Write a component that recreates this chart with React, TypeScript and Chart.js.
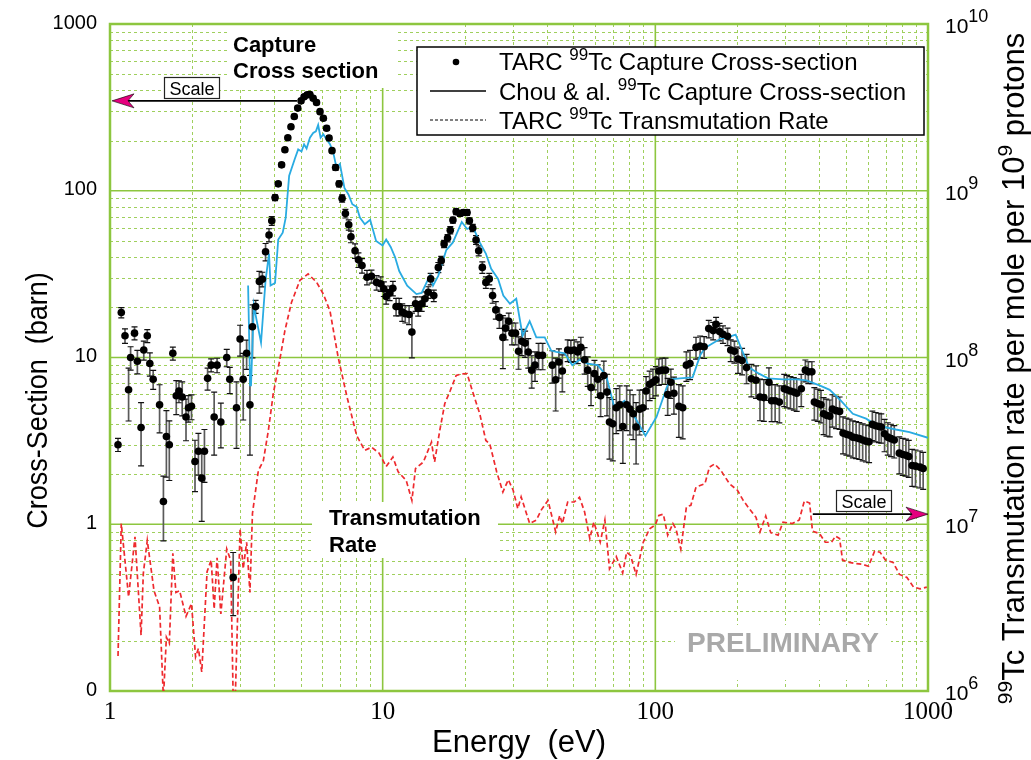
import { useEffect, useRef } from 'react';
import { Chart, registerables } from 'chart.js';

Chart.register(...registerables);

const W = 1031;
const H = 760;
const SANS = '"Liberation Sans", Arial, Helvetica, sans-serif';
const SERIF = '"Liberation Serif", "Times New Roman", serif';

// TARC 99Tc capture cross-section: energy (eV), cross-section (barn), relative error (%)
const tarcE = [
  1.07, 1.10, 1.135, 1.17, 1.19, 1.23, 1.26, 1.30, 1.33, 1.37, 1.40, 1.44, 1.52, 1.57, 1.61, 1.65,
  1.70, 1.75, 1.79, 1.84, 1.90, 1.94, 1.99, 2.05, 2.11, 2.17, 2.22, 2.28, 2.35, 2.41, 2.47, 2.55,
  2.68, 2.75, 2.83, 2.91, 3.00, 3.08, 3.17, 3.26, 3.33, 3.42, 3.53, 3.62, 3.72, 3.83, 3.92, 4.03,
  4.14, 4.26, 4.38, 4.49, 4.61, 4.74, 4.88, 5.02, 5.15, 5.29, 5.41, 5.56, 5.72, 5.89, 6.06, 6.23,
  6.36, 6.52, 6.72, 6.92, 7.10, 7.30, 7.51, 7.65, 7.92, 8.15, 8.40, 8.76, 9.10, 9.50, 9.83, 10.1,
  10.3, 10.6, 10.9, 11.2, 11.5, 11.8, 12.1, 12.5, 12.8, 13.2, 13.5, 13.9, 14.3, 14.7, 15.0, 15.4,
  16.0, 16.4, 16.8, 17.3, 17.7, 18.1, 18.6, 19.2, 19.8, 20.4, 20.8, 21.4, 22.0, 22.5, 23.2, 23.9,
  24.6, 25.3, 26.0, 26.8, 27.6, 28.2, 29.0, 29.8, 30.7, 31.5, 32.4, 33.3, 34.2, 35.2, 36.2, 37.3,
  38.6, 41.9, 43.1, 44.3, 45.6, 47.7, 49.0, 50.4, 51.9, 53.3, 55.0, 56.5, 58.1, 59.8, 61.5, 63.0,
  64.7, 66.5, 67.9, 69.8, 71.9, 74.0, 76.0, 78.5, 80.7, 83.0, 85.0, 87.5, 90.0, 92.5, 95.3, 98.0,
  100.5, 103, 106, 109, 111, 114, 117, 122, 126, 130, 134, 141, 146, 151, 157, 163,
  167, 172, 177, 184, 189, 195, 201, 208, 216, 225, 234, 242, 250, 261, 267, 275,
  285, 297, 304, 313, 322, 330, 343, 355, 364, 375, 383, 394, 405, 414, 424, 436,
  446, 460, 474, 488, 502, 516, 530, 545, 560, 576, 592, 608, 625, 643, 661, 674,
  693, 712, 732, 752, 785, 808, 830, 850, 875, 900, 935, 960,
];
const tarcXS = [
  3.0, 18.6, 13.5, 6.4, 10.0, 14.0, 9.5, 3.8, 11.1, 13.5, 9.2, 7.4, 5.2, 1.37, 3.36, 3.0,
  10.6, 5.9, 6.3, 5.8, 4.4, 5.0, 5.1, 2.38, 2.74, 1.89, 2.74, 7.5, 9.0, 4.4, 9.0, 4.1,
  10.0, 7.4, 0.48, 5.0, 12.9, 7.4, 10.6, 5.2, 15.3, 20.2, 28.6, 29.5, 43.1, 54.3, 66, 91,
  110, 143, 176, 208, 242, 279, 313, 346, 366, 376, 378, 359, 338, 298, 272, 237,
  207, 174, 138, 110, 90, 73, 62.5, 53, 43.7, 38.5, 35.6, 30.3, 30.7, 28.2, 27.7, 25.8,
  23.2, 24.4, 26.0, 20.2, 20.2, 18.7, 18.3, 18.1, 14.2, 21.0, 19.7, 21.0, 22.5, 24.6, 29.6, 23.5,
  34.7, 38.1, 48, 52, 58, 66.7, 75, 73, 74, 74, 66, 59.8, 50.7, 43.7, 34.7, 28.2,
  29.6, 23.5, 19.3, 17.4, 13.2, 15.0, 16.5, 14.0, 14.0, 10.9, 12.5, 12.2, 10.8, 8.4, 9.0, 10.3,
  10.3, 9.0, 7.35, 9.4, 8.3, 11.1, 11.0, 11.1, 10.8, 11.5, 9.7, 8.4, 6.6, 8.0, 7.4, 5.9,
  7.8, 6.2, 4.1, 4.0, 5.0, 5.2, 3.86, 5.2, 4.9, 4.6, 3.83, 4.9, 5.0, 6.3, 6.9, 7.1,
  7.35, 8.3, 8.4, 8.4, 6.0, 7.1, 6.1, 5.1, 5.0, 9.0, 9.2, 11.5, 11.7, 11.6, 14.9, 14.5,
  15.8, 14.3, 13.8, 13.4, 11.1, 10.9, 9.8, 9.6, 8.7, 7.45, 7.3, 5.8, 5.75, 7.1, 5.5, 5.5,
  5.4, 6.5, 6.4, 6.3, 6.2, 6.1, 6.5, 8.4, 8.2, 8.2, 5.4, 5.3, 5.2, 4.6, 4.5, 4.45,
  4.9, 4.8, 4.75, 3.52, 3.46, 3.42, 3.33, 3.3, 3.26, 3.2, 3.15, 3.12, 3.97, 3.9, 3.86, 3.83,
  3.49, 3.33, 3.26, 3.2, 2.67, 2.62, 2.59, 2.55, 2.25, 2.23, 2.2, 2.16,
];
const tarcErrPct = [
  9, 7, 10, 35, 16, 9, 16, 41, 13, 9, 16, 13, 32, 42, 43, 39,
  9, 23, 15, 23, 28, 18, 17, 34, 28, 45, 35, 15, 9, 41, 10, 30,
  12, 18, 41, 43, 21, 43, 20, 50, 35, 9, 15, 10, 12, 9, 6, 4,
  3, 3, 3, 3, 3, 3, 3, 3, 3, 3, 3, 3, 3, 3, 3, 3,
  3, 3, 4, 4, 5, 6, 7, 8, 10, 10, 10, 10, 9, 10, 10, 10,
  10, 10, 10, 12, 12, 12, 12, 13, 30, 10, 10, 10, 10, 8, 8, 8,
  7, 6, 5, 5, 5, 4, 4, 4, 4, 4, 4, 5, 6, 7, 8, 8,
  8, 10, 12, 14, 35, 15, 12, 15, 15, 22, 18, 18, 20, 22, 20, 18,
  18, 22, 35, 20, 25, 15, 15, 15, 15, 15, 18, 20, 22, 20, 22, 25,
  22, 28, 40, 40, 30, 30, 40, 30, 30, 30, 40, 30, 28, 22, 20, 20,
  20, 18, 18, 18, 25, 20, 25, 35, 35, 20, 20, 15, 15, 15, 12, 12,
  10, 12, 12, 12, 15, 15, 18, 18, 20, 22, 22, 28, 28, 22, 25, 25,
  25, 22, 22, 22, 22, 22, 22, 15, 15, 15, 22, 22, 22, 25, 25, 25,
  22, 22, 22, 25, 25, 25, 25, 25, 25, 25, 25, 25, 20, 20, 20, 20,
  22, 22, 22, 22, 25, 25, 25, 25, 25, 25, 25, 25,
];

// Chou & al. 99Tc capture cross-section: energy (eV), cross-section (barn)
const chouE = [
  3.21, 3.265, 3.29, 3.37, 3.45, 3.58, 3.65, 3.72, 3.83, 3.88, 4.03, 4.14, 4.30, 4.41, 4.54, 4.76,
  4.90, 5.04, 5.15, 5.26, 5.41, 5.56, 5.69, 5.80, 5.92, 6.06, 6.23, 6.41, 6.58, 6.77, 6.97, 7.24,
  7.49, 7.74, 8.03, 8.25, 8.6, 9.0, 9.46, 9.99, 10.3, 10.7, 11.1, 11.5, 12.3, 13.3, 13.9, 14.9,
  15.3, 16.0, 17.1, 18.1, 19.5, 20.4, 21.4, 22.7, 23.9, 25.0, 26.5, 27.7, 29.3, 30.9, 32.6, 34.6,
  36.6, 39.3, 41.5, 43.3, 46.5, 49.6, 52.7, 56.5, 61.5, 66, 71, 74, 77, 80.7, 84, 92,
  101, 110, 114, 123, 137, 146, 152, 163, 174, 184, 197, 209, 221, 240, 259, 294,
  330, 358, 400, 436, 480, 530, 593, 635, 680, 762, 855, 1000,
];
const chouXS = [
  27, 6.8, 6.8, 20.5, 16.7, 12.3, 19.0, 29, 42, 27, 28, 51, 56, 69, 123, 155,
  177, 172, 190, 179, 208, 222, 227, 248, 208, 218, 203, 190, 171, 138, 145, 104,
  95, 83, 80, 69, 63, 67, 50, 47, 51, 46, 40, 33, 27, 24, 24.4, 31,
  27, 31, 44, 49, 65, 59, 61, 49, 42, 34, 29.6, 23.5, 21, 22.5, 13.5, 16.5,
  13.2, 13.2, 11, 10.8, 10.6, 9.0, 9.7, 9.2, 9.0, 7.8, 4.9, 5.2, 5.5, 5.0, 4.4, 3.4,
  4.4, 6.6, 7.4, 7.5, 7.6, 10.3, 11.4, 12.2, 13.0, 13.2, 13.7, 10.8, 8.7, 8.0, 7.5, 7.4,
  7.4, 7.3, 6.8, 6.4, 5.5, 4.6, 4.3, 4.0, 3.85, 3.7, 3.57, 3.3,
];

// TARC 99Tc transmutation rate: energy (eV), rate per mole per 1e9 protons
const rateE = [
  1.07, 1.10, 1.17, 1.235, 1.30, 1.325, 1.37, 1.45, 1.52, 1.57, 1.61, 1.65, 1.70, 1.745, 1.80, 1.90,
  1.99, 2.06, 2.11, 2.17, 2.27, 2.35, 2.41, 2.47, 2.55, 2.68, 2.77, 2.83, 2.88, 3.00, 3.08, 3.17,
  3.26, 3.33, 3.50, 3.65, 3.81, 3.97, 4.20, 4.38, 4.63, 4.97, 5.33, 5.72, 6.06, 6.41, 6.87, 7.40,
  8.03, 8.60, 9.10, 9.70, 10.3, 10.9, 11.4, 12.2, 12.8, 13.2, 14.1, 15.1, 15.5, 16.2, 16.9, 17.7,
  18.6, 19.5, 20.4, 21.4, 22.7, 23.9, 24.7, 26.2, 27.6, 28.9, 30.1, 31.3, 32.2, 34.6, 36.6, 38.2,
  40.4, 43.1, 44.6, 45.6, 47.7, 50.4, 52.7, 55.0, 57.5, 59.5, 62.8, 65.3, 67.9, 71.9, 75.9, 78.5,
  81.1, 85.0, 90.3, 95.3, 100, 103, 107, 111, 116, 119, 124, 130, 135, 141, 152, 158,
  165, 174, 187, 200, 210, 221, 234, 242, 254, 265, 282, 294, 318, 337, 352, 368,
  377, 400, 420, 443, 458, 474, 486, 515, 545, 575, 605, 637, 667, 698, 745, 786,
  837, 885, 935, 990,
];
const rateVal = [
  1.62e6, 1.01e7, 3.67e6, 8.4e6, 2.16e6, 5.07e6, 8.0e6, 4.0e6, 3.2e6, 0.9e6, 2.1e6, 1.93e6, 6.7e6, 3.9e6, 4.0e6, 2.8e6,
  3.35e6, 1.6e6, 1.8e6, 1.3e6, 5.2e6, 6.1e6, 3.1e6, 6.3e6, 2.9e6, 7.1e6, 6.1e6, 0.9e6, 0.9e6, 9.4e6, 5.4e6, 7.8e6,
  3.9e6, 1.16e7, 2.1e7, 2.4e7, 3.66e7, 6.07e7, 9.8e7, 1.45e8, 2.14e8, 2.9e8, 3.17e8, 2.83e8, 2.4e8, 1.9e8, 1.0e8, 5.8e7,
  3.4e7, 2.77e7, 2.9e7, 2.67e7, 2.22e7, 2.53e7, 2.06e7, 1.83e7, 1.39e7, 2.16e7, 2.36e7, 3.11e7, 2.36e7, 3.66e7, 5.3e7, 6.34e7,
  7.8e7, 7.98e7, 8.0e7, 6.2e7, 4.6e7, 3.18e7, 3.04e7, 2.06e7, 1.56e7, 1.85e7, 1.6e7, 1.24e7, 1.46e7, 1.01e7, 1.06e7, 1.22e7,
  1.39e7, 9.0e6, 1.13e7, 1.01e7, 1.36e7, 1.36e7, 1.45e7, 1.19e7, 8.2e6, 1.03e7, 7.8e6, 1.06e7, 5.4e6, 6.4e6, 5.1e6, 6.8e6,
  6.5e6, 5.0e6, 7.8e6, 9.4e6, 9.9e6, 1.13e7, 1.15e7, 8.6e6, 1.01e7, 9.4e6, 7.1e6, 1.27e7, 1.3e7, 1.67e7, 1.75e7, 2.2e7,
  2.3e7, 2.1e7, 1.75e7, 1.6e7, 1.39e7, 1.24e7, 1.1e7, 9.0e6, 1.12e7, 8.9e6, 8.6e6, 1.03e7, 1.01e7, 1.06e7, 1.38e7, 1.34e7,
  9.1e6, 8.8e6, 7.8e6, 7.8e6, 8.5e6, 8.2e6, 6.1e6, 5.9e6, 5.8e6, 5.75e6, 5.6e6, 6.9e6, 6.8e6, 6.1e6, 5.9e6, 5.0e6,
  4.8e6, 4.2e6, 4.1e6, 4.2e6,
];

// Axis ticks
const xTickValues = [1, 10, 100, 1000];
const xTickLabels = ['1', '10', '100', '1000'];
const yTickValues = [0.1, 1, 10, 100, 1000];
const yTickLabels = ['0', '1', '10', '100', '1000'];
const rateTickExponents = [6, 7, 8, 9, 10];

// "Scale" arrows: where each arrow starts (energy, value) and where it points
const capScaleArrow = { fromE: 4.85, toE: 1, value: 346 };
const rateScaleArrow = { fromE: 378, toE: 1000, value: 1.15e7 };

const GRID_MAJOR = '#8dc63f';
const GRID_MINOR = '#9fcf5c';
const BLUE = '#29abe2';
const RED = '#ee2a2e';
const MAGENTA = '#e5007e';

type Part = { t: string; sup?: boolean };

function drawParts(
  ctx: CanvasRenderingContext2D,
  parts: Part[],
  x: number,
  y: number,
  size: number,
  supSize: number,
  rise: number,
  align: 'left' | 'center' | 'right',
  weight = 'normal',
  family = SANS,
) {
  const widths = parts.map((p) => {
    ctx.font = `${weight} ${p.sup ? supSize : size}px ${family}`;
    return ctx.measureText(p.t).width;
  });
  const total = widths.reduce((a, b) => a + b, 0);
  let cx = align === 'center' ? x - total / 2 : align === 'right' ? x - total : x;
  ctx.textAlign = 'left';
  ctx.textBaseline = 'alphabetic';
  parts.forEach((p, i) => {
    ctx.font = `${weight} ${p.sup ? supSize : size}px ${family}`;
    ctx.fillText(p.t, cx, p.sup ? y - rise : y);
    cx += widths[i];
  });
}

function whiteBox(ctx: CanvasRenderingContext2D, x0: number, y0: number, x1: number, y1: number) {
  ctx.fillStyle = '#fff';
  ctx.fillRect(x0, y0, x1 - x0, y1 - y0);
}

function arrow(ctx: CanvasRenderingContext2D, x0: number, x1: number, y: number) {
  const dir = Math.sign(x1 - x0);
  const headLen = 22;
  const notch = 16;
  ctx.strokeStyle = '#000';
  ctx.lineWidth = 1.6;
  ctx.beginPath();
  ctx.moveTo(x0, y);
  ctx.lineTo(x1 - dir * notch, y);
  ctx.stroke();
  ctx.fillStyle = MAGENTA;
  ctx.beginPath();
  ctx.moveTo(x1, y);
  ctx.lineTo(x1 - dir * headLen, y - 7);
  ctx.lineTo(x1 - dir * notch, y);
  ctx.lineTo(x1 - dir * headLen, y + 7);
  ctx.closePath();
  ctx.fill();
  ctx.strokeStyle = '#000';
  ctx.lineWidth = 0.6;
  ctx.stroke();
}

function scaleTag(ctx: CanvasRenderingContext2D, x: number, y: number) {
  const w = 55;
  const h = 21;
  ctx.fillStyle = '#fff';
  ctx.fillRect(x, y, w, h);
  ctx.strokeStyle = '#222';
  ctx.lineWidth = 1.2;
  ctx.strokeRect(x + 0.5, y + 0.5, w, h);
  ctx.fillStyle = '#000';
  ctx.font = `18px ${SANS}`;
  ctx.textAlign = 'center';
  ctx.textBaseline = 'alphabetic';
  ctx.fillText('Scale', x + w / 2 + 0.5, y + 18);
}

const decorPlugin = {
  id: 'decor',
  beforeDatasetsDraw(chart: any) {
    const ctx: CanvasRenderingContext2D = chart.ctx;
    const xs = chart.scales.x;
    const ys = chart.scales.y;
    const { left, right, top, bottom } = chart.chartArea;
    ctx.save();

    // minor grid
    ctx.strokeStyle = GRID_MINOR;
    ctx.lineWidth = 1;
    ctx.setLineDash([3, 3]);
    for (const dec of [1, 10, 100]) {
      for (let k = 2; k <= 9; k++) {
        const px = Math.round(xs.getPixelForValue(dec * k)) + 0.5;
        ctx.beginPath();
        ctx.moveTo(px, top);
        ctx.lineTo(px, bottom);
        ctx.stroke();
      }
    }
    for (const dec of [0.1, 1, 10, 100]) {
      for (let k = 2; k <= 9; k++) {
        const py = Math.round(ys.getPixelForValue(dec * k)) + 0.5;
        ctx.beginPath();
        ctx.moveTo(left, py);
        ctx.lineTo(right, py);
        ctx.stroke();
      }
    }
    // major grid
    ctx.setLineDash([]);
    ctx.strokeStyle = GRID_MAJOR;
    ctx.lineWidth = 1.6;
    for (const v of [10, 100]) {
      const px = xs.getPixelForValue(v);
      ctx.beginPath();
      ctx.moveTo(px, top);
      ctx.lineTo(px, bottom);
      ctx.stroke();
    }
    for (const v of [1, 10, 100]) {
      const py = ys.getPixelForValue(v);
      ctx.beginPath();
      ctx.moveTo(left, py);
      ctx.lineTo(right, py);
      ctx.stroke();
    }

    // label backgrounds
    whiteBox(ctx, 230, top + 1, 397, 88);
    whiteBox(ctx, 312, 502, 498, 558);
    whiteBox(ctx, 675, 625, 891, 680);

    // frame
    ctx.strokeStyle = GRID_MAJOR;
    ctx.lineWidth = 2.5;
    ctx.strokeRect(left, top, right - left, bottom - top);

    // error bars for the TARC points
    ctx.beginPath();
    ctx.rect(left, top, right - left, bottom - top);
    ctx.clip();
    tarcE.forEach((e, i) => {
      const v = tarcXS[i];
      const err = (v * tarcErrPct[i]) / 100;
      const px = xs.getPixelForValue(e);
      const pHi = ys.getPixelForValue(v + err);
      const pLo = ys.getPixelForValue(Math.max(v - err, 0.01));
      ctx.strokeStyle = '#5a5a5a';
      ctx.lineWidth = 1.7;
      ctx.beginPath();
      ctx.moveTo(px, pHi);
      ctx.lineTo(px, pLo);
      ctx.stroke();
      ctx.strokeStyle = '#111';
      ctx.lineWidth = 1.2;
      ctx.beginPath();
      ctx.moveTo(px - 3, pHi);
      ctx.lineTo(px + 3, pHi);
      ctx.moveTo(px - 3, pLo);
      ctx.lineTo(px + 3, pLo);
      ctx.stroke();
    });
    ctx.restore();
  },
  afterDatasetsDraw(chart: any) {
    const ctx: CanvasRenderingContext2D = chart.ctx;
    const xs = chart.scales.x;
    const ys = chart.scales.y;
    const yr = chart.scales.y1;
    const { left, right, top, bottom } = chart.chartArea;
    ctx.save();

    // axis tick labels
    ctx.fillStyle = '#000';
    ctx.font = `20px ${SANS}`;
    ctx.textAlign = 'right';
    ctx.textBaseline = 'middle';
    yTickValues.forEach((v, i) => {
      ctx.fillText(yTickLabels[i], left - 13, ys.getPixelForValue(v) - 1);
    });
    ctx.font = `25px ${SERIF}`;
    ctx.textAlign = 'center';
    ctx.textBaseline = 'middle';
    xTickValues.forEach((v, i) => {
      ctx.fillText(xTickLabels[i], xs.getPixelForValue(v), bottom + 21);
    });
    rateTickExponents.forEach((ex) => {
      const py = yr.getPixelForValue(Math.pow(10, ex));
      drawParts(ctx, [{ t: '10' }, { t: String(ex), sup: true }], right + 17, py + 9, 21, 18, 11, 'left');
    });

    // axis titles
    ctx.fillStyle = '#000';
    drawParts(ctx, [{ t: 'Energy  (eV)' }], (left + right) / 2, bottom + 61, 31, 20, 10, 'center');
    ctx.save();
    ctx.translate(47, (top + bottom) / 2 + 43);
    ctx.rotate(-Math.PI / 2);
    ctx.scale(0.9, 1);
    drawParts(ctx, [{ t: 'Cross-Section  (barn)' }], 0, 0, 30, 20, 10, 'center');
    ctx.restore();
    ctx.save();
    ctx.translate(1024, (top + bottom) / 2 + 11);
    ctx.rotate(-Math.PI / 2);
    drawParts(
      ctx,
      [{ t: '99', sup: true }, { t: 'Tc Transmutation rate per mole per 10' }, { t: '9', sup: true }, { t: ' protons' }],
      0,
      0,
      31,
      21,
      12,
      'center',
    );
    ctx.restore();

    // in-plot labels
    ctx.fillStyle = '#000';
    ctx.font = `bold 22px ${SANS}`;
    ctx.textAlign = 'left';
    ctx.textBaseline = 'alphabetic';
    ctx.fillText('Capture', 233, 52);
    ctx.fillText('Cross section', 233, 78);
    ctx.fillText('Transmutation', 329, 525);
    ctx.fillText('Rate', 329, 552);
    ctx.fillStyle = '#a9a9a9';
    ctx.font = `bold 28px ${SANS}`;
    ctx.fillText('PRELIMINARY', 687, 652);

    // scale arrows
    const yCap = ys.getPixelForValue(capScaleArrow.value);
    arrow(ctx, xs.getPixelForValue(capScaleArrow.fromE), xs.getPixelForValue(capScaleArrow.toE) + 2, yCap);
    scaleTag(ctx, 164, 77);
    const yRate = yr.getPixelForValue(rateScaleArrow.value);
    arrow(ctx, xs.getPixelForValue(rateScaleArrow.fromE), xs.getPixelForValue(rateScaleArrow.toE), yRate);
    scaleTag(ctx, 836, 490);

    // legend
    const lx = 417;
    const ly = 47;
    ctx.fillStyle = '#fff';
    ctx.fillRect(lx, ly, 507, 88);
    ctx.strokeStyle = '#000';
    ctx.lineWidth = 1.5;
    ctx.strokeRect(lx, ly, 507, 88);
    ctx.fillStyle = '#000';
    ctx.beginPath();
    ctx.arc(456, 62, 3.3, 0, Math.PI * 2);
    ctx.fill();
    ctx.lineWidth = 1.5;
    ctx.beginPath();
    ctx.moveTo(430, 91);
    ctx.lineTo(486, 91);
    ctx.stroke();
    ctx.lineWidth = 1;
    ctx.setLineDash([3, 2]);
    ctx.beginPath();
    ctx.moveTo(430, 120);
    ctx.lineTo(486, 120);
    ctx.stroke();
    ctx.setLineDash([]);
    const rows: Part[][] = [
      [{ t: 'TARC ' }, { t: '99', sup: true }, { t: 'Tc Capture Cross-section' }],
      [{ t: 'Chou & al. ' }, { t: '99', sup: true }, { t: 'Tc Capture Cross-section' }],
      [{ t: 'TARC ' }, { t: '99', sup: true }, { t: 'Tc Transmutation Rate' }],
    ];
    rows.forEach((r, i) => drawParts(ctx, r, 499, 70 + i * 29.5, 24, 17, 10, 'left'));

    ctx.restore();
  },
};

export default function App() {
  const ref = useRef<HTMLCanvasElement | null>(null);

  useEffect(() => {
    if (!ref.current) return;
    const chart = new Chart(ref.current, {
      type: 'scatter',
      data: {
        datasets: [
          {
            label: 'TARC 99Tc Capture Cross-section',
            data: tarcE.map((e, i) => ({ x: e, y: tarcXS[i] })),
            showLine: false,
            pointRadius: 3.8,
            pointBorderWidth: 0,
            pointBackgroundColor: '#000',
            yAxisID: 'y',
          },
          {
            type: 'line',
            label: 'Chou & al. 99Tc Capture Cross-section',
            data: chouE.map((e, i) => ({ x: e, y: chouXS[i] })),
            borderColor: BLUE,
            borderWidth: 1.8,
            pointRadius: 0,
            tension: 0,
            fill: false,
            yAxisID: 'y',
          },
          {
            type: 'line',
            label: 'TARC 99Tc Transmutation Rate',
            data: rateE.map((e, i) => ({ x: e, y: rateVal[i] })),
            borderColor: RED,
            borderWidth: 1.7,
            borderDash: [5, 3],
            pointRadius: 0,
            tension: 0,
            fill: false,
            yAxisID: 'y1',
          },
        ],
      } as any,
      options: {
        animation: false,
        responsive: false,
        events: [],
        layout: { padding: { top: 24, left: 0, right: 0, bottom: 0 } },
        plugins: { legend: { display: false }, tooltip: { enabled: false } },
        scales: {
          x: {
            type: 'logarithmic',
            min: 1,
            max: 1000,
            grid: { display: false },
            border: { display: false },
            ticks: { display: false },
            afterFit: (s: any) => {
              s.height = 69;
            },
          },
          y: {
            type: 'logarithmic',
            position: 'left',
            min: 0.1,
            max: 1000,
            grid: { display: false },
            border: { display: false },
            ticks: { display: false },
            afterFit: (s: any) => {
              s.width = 110;
            },
          },
          y1: {
            type: 'logarithmic',
            position: 'right',
            min: 1e6,
            max: 1e10,
            grid: { display: false },
            border: { display: false },
            ticks: { display: false },
            afterFit: (s: any) => {
              s.width = 103;
            },
          },
        },
      } as any,
      plugins: [decorPlugin],
    });
    return () => chart.destroy();
  }, []);

  return (
    <div style={{ position: 'absolute', left: 0, top: 0, width: W, height: H, background: '#fff' }}>
      <canvas ref={ref} width={W} height={H} style={{ display: 'block', width: W, height: H }} />
    </div>
  );
}
